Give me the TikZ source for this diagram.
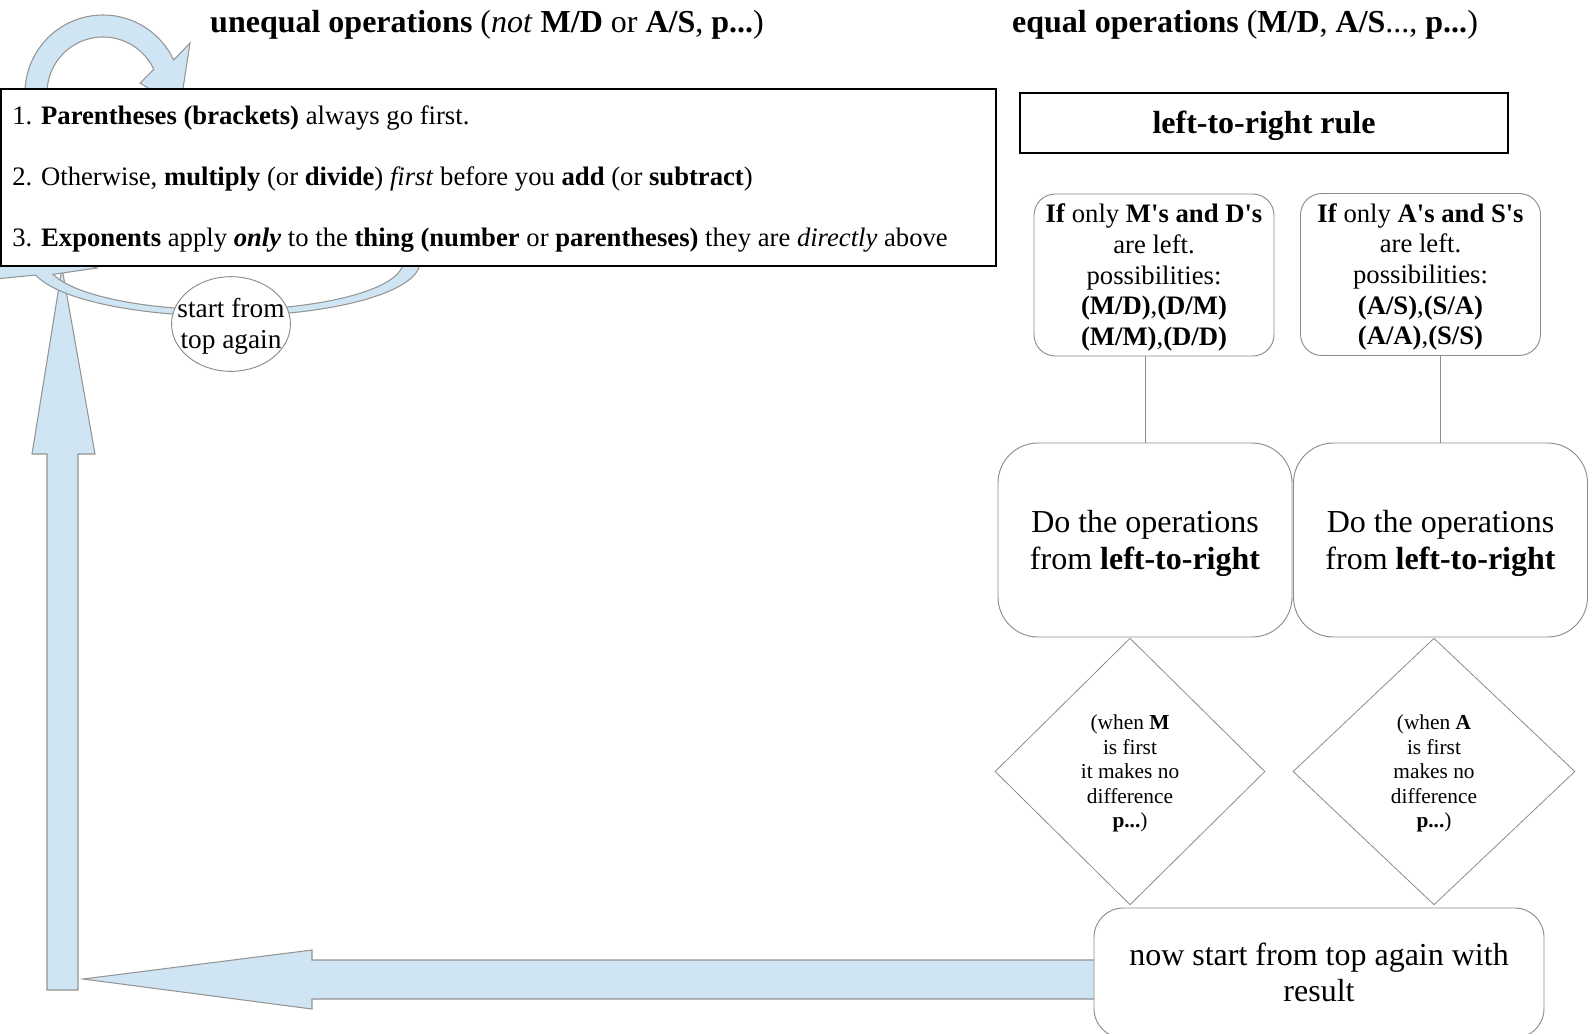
\documentclass[tikz,border=0pt]{standalone}
\usepackage{fontspec}
\setmainfont{Liberation Serif}
\usetikzlibrary{calc,positioning,shapes.geometric}
\definecolor{ink}{HTML}{000000}
\definecolor{edge}{HTML}{8C8C8C}
\definecolor{arrowblue}{HTML}{CFE5F3}
\definecolor{arrowline}{HTML}{959595}
% full ascent/descent of the font around the node text
\newcommand{\tstrut}{\rule{0pt}{0.891em}}
\newcommand{\bstrut}{\rule[-0.216em]{0pt}{0.216em}}

\begin{document}
\begin{tikzpicture}[x=0.75pt,y=-0.75pt,
    oneline/.style={execute at begin node=\tstrut,execute at end node=\bstrut},
    blockarrow/.style={fill=arrowblue,draw=arrowline,line width=0.8pt},
    heading/.style={oneline,inner sep=0pt,font=\fontsize{24}{28}\selectfont},
    ruleline/.style={oneline,anchor=west,inner sep=0pt,font=\fontsize{20}{24}\selectfont},
    softbox/.style={draw=edge,fill=white,line width=0.7pt,rounded corners=#1,align=center},
    choice/.style={diamond,draw=edge,fill=white,line width=0.6pt,inner sep=0pt,align=center,font=\fontsize{16}{18.3}\selectfont}]
  \useasboundingbox (0,0) rectangle (1596,1033);

  % big return arrows, drawn first so the boxes sit on top
  \draw[blockarrow] (47,990) -- (47,454) -- (32,454) -- (62,268) -- (95,454) -- (78,454) -- (78,990) -- cycle;
  \draw[blockarrow] (1100,960) -- (312,960) -- (312,950) -- (83,979) -- (312,1009) -- (312,999) -- (1100,999) -- cycle;
  \draw[blockarrow] (420,262) arc[start angle=0,end angle=166,x radius=195,y radius=54]
    -- (-10,279.5) -- (15,235) -- (97,268) -- (53.1,274.4)
    arc[start angle=165,end angle=0,x radius=178,y radius=48] -- cycle;
  \draw[blockarrow] (25,93) arc[start angle=-180,end angle=-25,radius=78]
    -- (190,43) -- (180,108) -- (140,83) -- (153.8,69.3)
    arc[start angle=-25,end angle=-180,radius=56] -- cycle;

  % headings
  \node[heading] (unequal) at (487,22) {\textbf{unequal operations} (\textit{not} \textbf{M/D} or \textbf{A/S}, \textbf{p...})};
  \node[heading] (equal) at (1245,22) {\textbf{equal operations} (\textbf{M/D}, \textbf{A/S}..., \textbf{p...})};

  % the three rules
  \node[draw=ink,fill=white,line width=0.8pt,minimum width=746.25pt,minimum height=132.75pt] (rules) at (498.5,177.5) {};
  \node[ruleline] (rule1) at (12,115) {1. \textbf{Parentheses (brackets)} always go first.};
  \node[ruleline] (rule2) at (12,176) {2. Otherwise, \textbf{multiply} (or \textbf{divide}) \textit{first} before you \textbf{add} (or \textbf{subtract})};
  \node[ruleline] (rule3) at (12,238) {3. \textbf{Exponents} apply \textbf{\textit{only}} to the \textbf{thing (number} or \textbf{parentheses)} they are \textit{directly} above};
  \node[ellipse,draw=edge,fill=white,line width=0.7pt,inner xsep=-8.6pt,inner ysep=2pt,minimum height=71pt,align=center,font=\fontsize{20.5}{23.5}\selectfont] (again) at (231,324) {\tstrut start from\\top again\bstrut};

  % left-to-right branch
  \node[oneline,draw=ink,line width=0.8pt,minimum width=366pt,minimum height=45pt,font=\fontsize{24}{28}\selectfont\bfseries] (ltr) at (1264,123) {left-to-right rule};
  \node[softbox=16pt,minimum width=180pt,minimum height=121.5pt,font=\fontsize{20}{23}\selectfont] (md) at (1154,275)
    {\tstrut\textbf{If} only \textbf{M\textquotesingle s and D\textquotesingle s}\\are left.\\possibilities:\\\textbf{(M/D)},\textbf{(D/M)}\\\textbf{(M/M)},\textbf{(D/D)}\bstrut};
  \node[softbox=16pt,minimum width=180pt,minimum height=121.5pt,font=\fontsize{20}{23}\selectfont] (as) at (1420.5,274.5)
    {\tstrut\textbf{If} only \textbf{A\textquotesingle s and S\textquotesingle s}\\are left.\\possibilities:\\\textbf{(A/S)},\textbf{(S/A)}\\\textbf{(A/A)},\textbf{(S/S)}\bstrut};
  \node[softbox=30pt,minimum width=220.5pt,minimum height=145.5pt,font=\fontsize{24}{28}\selectfont] (do1) at (1145,540) {\tstrut Do the operations\\from \textbf{left-to-right}\bstrut};
  \node[softbox=30pt,minimum width=220.5pt,minimum height=145.5pt,font=\fontsize{24}{28}\selectfont] (do2) at (1440.5,540) {\tstrut Do the operations\\from \textbf{left-to-right}\bstrut};
  \node[choice,minimum width=202.5pt,minimum height=200pt] (d1) at (1130,771.5) {\tstrut(when \textbf{M}\\is first\\it makes no\\difference\\\textbf{p...})\bstrut};
  \node[choice,minimum width=211.5pt,minimum height=200pt] (d2) at (1434,771.5) {\tstrut(when \textbf{A}\\is first\\makes no\\difference\\\textbf{p...})\bstrut};
  \node[softbox=22pt,minimum width=337.5pt,minimum height=97.5pt,font=\fontsize{24}{27}\selectfont] (now) at (1319,973) {\tstrut now start from top again with\\result\bstrut};

  \foreach \u/\v in {md/do1,as/do2}{\draw[edge,line width=0.7pt] (\v.north) -- (\v.north |- \u.south);}
\end{tikzpicture}
\end{document}
